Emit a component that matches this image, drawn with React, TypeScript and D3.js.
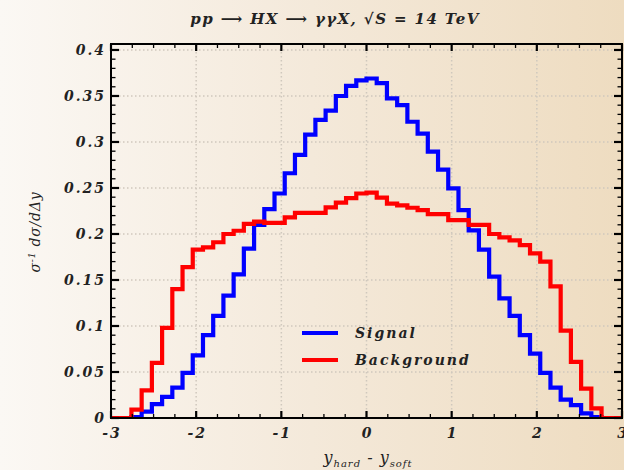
import React from "react";
import * as d3 from "d3";

// Normalised Δy distributions, 50 bins of width 0.12 on [-3, 3]
const binEdges = d3.range(51).map((i) => -3 + i * 0.12);

const signal = [
  0, 0, 0.001, 0.007, 0.015, 0.023, 0.033, 0.049, 0.068, 0.09,
  0.111, 0.133, 0.156, 0.184, 0.21, 0.227, 0.244, 0.266, 0.286, 0.308,
  0.324, 0.334, 0.35, 0.361, 0.367, 0.369, 0.364, 0.3475, 0.34, 0.322,
  0.309, 0.2895, 0.27, 0.2496, 0.226, 0.204, 0.183, 0.1536, 0.13, 0.111,
  0.09, 0.07, 0.049, 0.033, 0.02, 0.014, 0.005, 0.001, 0, 0,
];

const background = [
  0, 0, 0.009, 0.03, 0.06, 0.098, 0.14, 0.164, 0.183, 0.1855,
  0.191, 0.2, 0.2035, 0.211, 0.2135, 0.212, 0.212, 0.218, 0.223, 0.223,
  0.223, 0.229, 0.234, 0.239, 0.244, 0.245, 0.2395, 0.233, 0.231, 0.2285,
  0.226, 0.2217, 0.2217, 0.215, 0.215, 0.21, 0.21, 0.2, 0.1964, 0.193,
  0.188, 0.179, 0.17, 0.143, 0.095, 0.061, 0.032, 0.0105, 0, 0,
];

const xTicks = [-3, -2, -1, 0, 1, 2, 3];
const yTicks = [0, 0.05, 0.1, 0.15, 0.2, 0.25, 0.3, 0.35, 0.4];
const xMinor = d3.range(-3, 3.001, 0.25);
const yMinor = d3.range(0, 0.4065, 0.01);

const seriesNames = ["Signal", "Background"];
const seriesColors = ["#0000ff", "#ff0000"];

const W = 624;
const H = 470;
const left = 111;
const right = 622;
const top = 44;
const bottom = 418;

const tickFont = "'DejaVu Serif', serif";

export default function App() {
  const x = d3.scaleLinear().domain([-3, 3]).range([left, right]);
  const y = d3.scaleLinear().domain([0, 0.4065]).range([bottom, top]);

  const line = d3
    .line<[number, number]>()
    .x((d) => x(d[0]))
    .y((d) => y(d[1]))
    .curve(d3.curveStepAfter);

  const toPts = (vals: number[]): [number, number][] => [
    ...vals.map((v, i) => [binEdges[i], v] as [number, number]),
    [binEdges[vals.length], vals[vals.length - 1]],
  ];

  const series = [signal, background];

  const fmtY = (v: number) => (v === 0 ? "0" : String(+v.toFixed(2)));

  return (
    <svg
      width={W}
      height={H}
      style={{ position: "absolute", left: 0, top: 0 }}
      xmlns="http://www.w3.org/2000/svg"
    >
      <defs>
        <linearGradient id="bg" x1="0" y1="0" x2="1" y2="0">
          <stop offset="0" stopColor="#fbf8f4" />
          <stop offset="0.5" stopColor="#f4e9da" />
          <stop offset="1" stopColor="#eedcc0" />
        </linearGradient>
        <clipPath id="plot">
          <rect x={left} y={top} width={right - left} height={bottom - top} />
        </clipPath>
      </defs>
      <rect x={0} y={0} width={W} height={H} fill="url(#bg)" />

      {/* grid */}
      <g stroke="#cfc8bd" strokeWidth={1.5} strokeDasharray="1.5,2.5">
        {xTicks
          .filter((t) => t > -3 && t < 3)
          .map((t) => (
            <line key={"gx" + t} x1={x(t)} x2={x(t)} y1={top} y2={bottom} />
          ))}
        {yTicks
          .filter((t) => t > 0)
          .map((t) => (
            <line key={"gy" + t} x1={left} x2={right} y1={y(t)} y2={y(t)} />
          ))}
      </g>

      {/* histograms */}
      <g clipPath="url(#plot)" fill="none" strokeWidth={4.2} strokeLinejoin="miter" strokeLinecap="square">
        {series.map((vals, k) => (
          <path key={k} d={line(toPts(vals)) || ""} stroke={seriesColors[k]} />
        ))}
      </g>

      {/* ticks on all four sides */}
      <g stroke="#000">
        {xMinor.map((t, i) => {
          const major = xTicks.some((m) => Math.abs(m - t) < 1e-6);
          const len = major ? 7 : 4;
          const sw = major ? 2.2 : 1.3;
          return (
            <g key={"xt" + i} strokeWidth={sw}>
              <line x1={x(t)} x2={x(t)} y1={bottom} y2={bottom - len} />
              <line x1={x(t)} x2={x(t)} y1={top} y2={top + len} />
            </g>
          );
        })}
        {yMinor.map((t, i) => {
          const major = yTicks.some((m) => Math.abs(m - t) < 1e-6);
          const len = major ? 8 : 4.5;
          const sw = major ? 2.2 : 1.3;
          return (
            <g key={"yt" + i} strokeWidth={sw}>
              <line x1={left} x2={left + len} y1={y(t)} y2={y(t)} />
              <line x1={right} x2={right - len} y1={y(t)} y2={y(t)} />
            </g>
          );
        })}
      </g>

      {/* frame */}
      <rect
        x={left}
        y={top}
        width={right - left}
        height={bottom - top}
        fill="none"
        stroke="#000"
        strokeWidth={2}
      />

      {/* tick labels */}
      <g
        fontFamily={tickFont}
        fontStyle="italic"
        fontWeight="bold"
        fontSize={14}
        fill="#222"
        letterSpacing={2}
      >
        {yTicks.map((t) => (
          <text key={"yl" + t} x={left - 5} y={y(t)} dy="0.35em" textAnchor="end">
            {fmtY(t)}
          </text>
        ))}
        {xTicks.map((t) => (
          <text key={"xl" + t} x={x(t) + 1} y={bottom + 20} textAnchor="middle">
            {String(t)}
          </text>
        ))}
      </g>

      {/* title */}
      <text
        x={335}
        y={24}
        textAnchor="middle"
        fontFamily={tickFont}
        fontStyle="italic"
        fontWeight="bold"
        fontSize={15}
        letterSpacing={1.4}
        fill="#222"
      >
        pp ⟶ HX ⟶ γγX, √S = 14 TeV
      </text>

      {/* axis labels */}
      <text
        x={368}
        y={463}
        textAnchor="middle"
        fontFamily={tickFont}
        fontStyle="italic"
        fontSize={16}
        letterSpacing={1}
        fill="#222"
      >
        y<tspan fontSize={10} dy={4}>hard</tspan>
        <tspan dy={-4}> - y</tspan>
        <tspan fontSize={10} dy={4}>soft</tspan>
      </text>
      <text
        transform={`translate(40, 232) rotate(-90)`}
        textAnchor="middle"
        fontFamily={tickFont}
        fontStyle="italic"
        fontSize={14}
        letterSpacing={0.8}
        fill="#222"
      >
        σ<tspan fontSize={9} dy={-5}>-1</tspan>
        <tspan dy={5}> dσ/dΔy</tspan>
      </text>

      {/* legend */}
      <g>
        {seriesNames.map((name, k) => {
          const ly = 333 + k * 27;
          return (
            <g key={name}>
              <line x1={302} x2={338} y1={ly} y2={ly} stroke={seriesColors[k]} strokeWidth={4} />
              <text
                x={355}
                y={ly}
                dy="0.35em"
                fontFamily={tickFont}
                fontStyle="italic"
                fontWeight="bold"
                fontSize={14}
                letterSpacing={2}
                fill="#222"
              >
                {name}
              </text>
            </g>
          );
        })}
      </g>
    </svg>
  );
}
